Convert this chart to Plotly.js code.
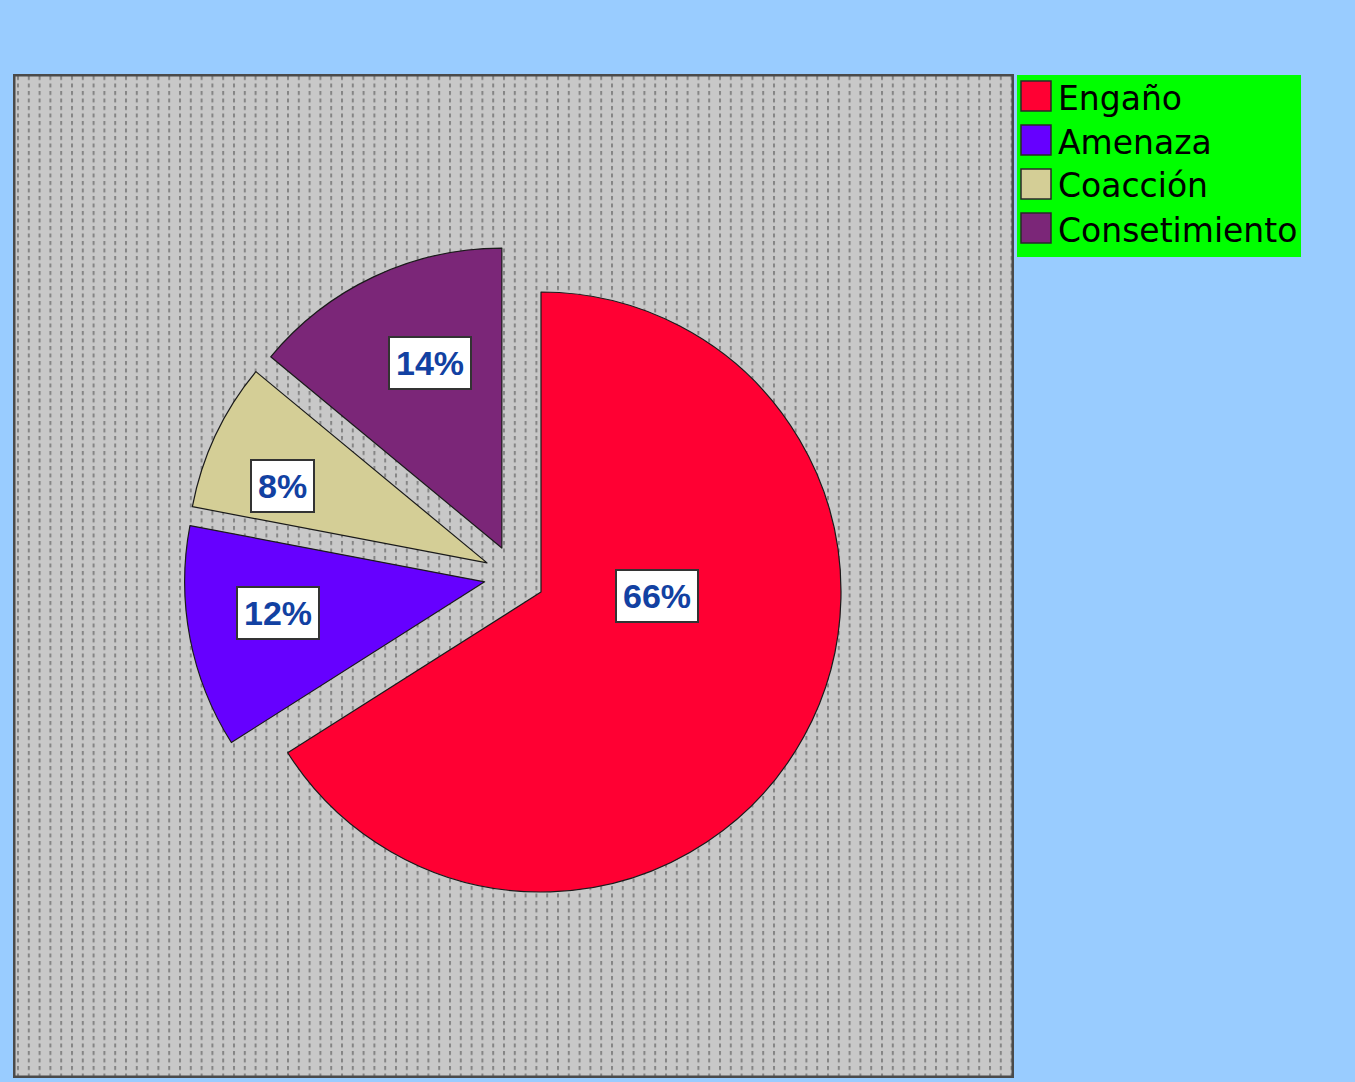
<!DOCTYPE html>
<html>
<head>
<meta charset="utf-8">
<script src="https://cdn.plot.ly/plotly-3.0.1.min.js"></script>
<style>
html,body{margin:0;padding:0;background:#99CCFF;}
#chart{width:1355px;height:1082px;}
</style>
</head>
<body>
<div id="chart"></div>
<script>
// ---- data ----
const categories = ["Engaño", "Amenaza", "Coacción", "Consetimiento"];
const values = [66, 12, 8, 14];
const percentLabels = ["66%", "12%", "8%", "14%"];

// ---- styles / layout config ----
const W = 1355, H = 1082;
const sliceColors = ["#FF0033", "#6600FF", "#D4CE96", "#7B2678"];
const exploded = [false, true, true, true];      // slices drawn in the exploded group
const pieRadius = 300;
const mainCenter = {x: 541, y: 592};              // center of the non-exploded slice
const explodedCenter = {x: 515, y: 576};          // group shift for exploded slices
const explodePull = 0.103;                         // extra pull of exploded slices
// label placement: radius fraction (from its group center) and angle offset from slice mid-angle
const labelRadiusFrac = [0.387, 0.80, 0.83, 0.765];
const labelAngleShift = [-27, 2, -4, 3.4];
const plotBox = {x0: 13, y0: 74, x1: 1014, y1: 1078};
const legendBox = {x0: 1017, y0: 75, x1: 1301, y1: 257};

const px = v => v / W;
const py = v => 1 - v / H;
const clear = "rgba(0,0,0,0)";

function domainFor(c, maxPull) {
  const half = pieRadius * (1 + maxPull);
  return {
    x: [px(c.x - half), px(c.x + half)],
    y: [py(c.y + half), py(c.y - half)]
  };
}

function pieTrace(showExploded) {
  const show = exploded.map(e => e === showExploded);
  const pulls = show.map(s => (showExploded && s) ? explodePull : 0);
  return {
    type: "pie",
    labels: categories,
    values: values,
    sort: false,
    direction: "clockwise",
    rotation: 0,
    pull: pulls,
    textinfo: "none",
    hoverinfo: "label+percent",
    marker: {
      colors: sliceColors.map((c, i) => show[i] ? c : clear),
      line: {color: "#1a1a1a", width: show.map(s => s ? 1.2 : 0)}
    },
    domain: domainFor(showExploded ? explodedCenter : mainCenter, Math.max(...pulls)),
    showlegend: false
  };
}

// background pattern image (gray with vertical dotted lines)
const bw = plotBox.x1 - plotBox.x0, bh = plotBox.y1 - plotBox.y0;
const svg = `<svg xmlns="http://www.w3.org/2000/svg" width="${bw}" height="${bh}">` +
  `<defs><pattern id="p" x="4" y="2" width="10.8" height="7.5" patternUnits="userSpaceOnUse">` +
  `<rect x="0" y="0" width="2" height="4" fill="#858585"/></pattern></defs>` +
  `<rect x="0" y="0" width="${bw}" height="${bh}" fill="#C8C8C8"/>` +
  `<rect x="0" y="0" width="${bw}" height="${bh}" fill="url(#p)"/>` +
  `<rect x="1.25" y="1.25" width="${bw-2.5}" height="${bh-2.5}" fill="none" stroke="#4a4a4a" stroke-width="2.5"/>` +
  `</svg>`;
const bgSrc = "data:image/svg+xml;charset=utf-8," + encodeURIComponent(svg);

// annotations for percentage labels
const total = values.reduce((a, b) => a + b, 0);
const annotations = [];
let cum = 0;
values.forEach((v, i) => {
  const mid = (cum + v / 2) / total * 360;
  cum += v;
  const c = exploded[i] ? explodedCenter : mainCenter;
  const ang = (mid + labelAngleShift[i]) * Math.PI / 180;
  const rr = labelRadiusFrac[i] * pieRadius;
  const lx = c.x + rr * Math.sin(ang);
  const ly = c.y - rr * Math.cos(ang);
  annotations.push({
    xref: "paper", yref: "paper", x: px(lx), y: py(ly),
    xanchor: "center", yanchor: "middle", showarrow: false,
    text: "<b>" + percentLabels[i] + "</b>",
    font: {family: "Liberation Sans, Arial, sans-serif", size: 34, color: "#1241A2"},
    bgcolor: "#FFFFFF", bordercolor: "#333333", borderwidth: 2, borderpad: 6
  });
});

// manual legend
const shapes = [{
  type: "rect", xref: "paper", yref: "paper", layer: "above",
  x0: px(legendBox.x0), x1: px(legendBox.x1), y0: py(legendBox.y1), y1: py(legendBox.y0),
  fillcolor: "#00FF00", line: {width: 0}
}];
const legStartY = 96, legStep = 44, swatch = 30, swX = 1021, txtX = 1056;
categories.forEach((c, i) => {
  const cy = legStartY + i * legStep;
  shapes.push({
    type: "rect", xref: "paper", yref: "paper", layer: "above",
    x0: px(swX), x1: px(swX + swatch), y0: py(cy + swatch / 2), y1: py(cy - swatch / 2),
    fillcolor: sliceColors[i], line: {color: "#2a2a2a", width: 1.5}
  });
  annotations.push({
    xref: "paper", yref: "paper", x: px(txtX), y: py(cy + 2),
    xanchor: "left", yanchor: "middle", showarrow: false,
    text: c,
    font: {family: "DejaVu Sans, sans-serif", size: 33, color: "#000000"}
  });
});

const layout = {
  width: W, height: H,
  margin: {l: 0, r: 0, t: 0, b: 0},
  paper_bgcolor: "#99CCFF",
  showlegend: false,
  images: [{
    source: bgSrc, xref: "paper", yref: "paper",
    x: px(plotBox.x0), y: py(plotBox.y0), sizex: bw / W, sizey: bh / H,
    xanchor: "left", yanchor: "top", sizing: "stretch", layer: "below"
  }],
  shapes: shapes,
  annotations: annotations
};

Plotly.newPlot("chart", [pieTrace(false), pieTrace(true)], layout, {displayModeBar: false, staticPlot: true});
</script>
</body>
</html>
